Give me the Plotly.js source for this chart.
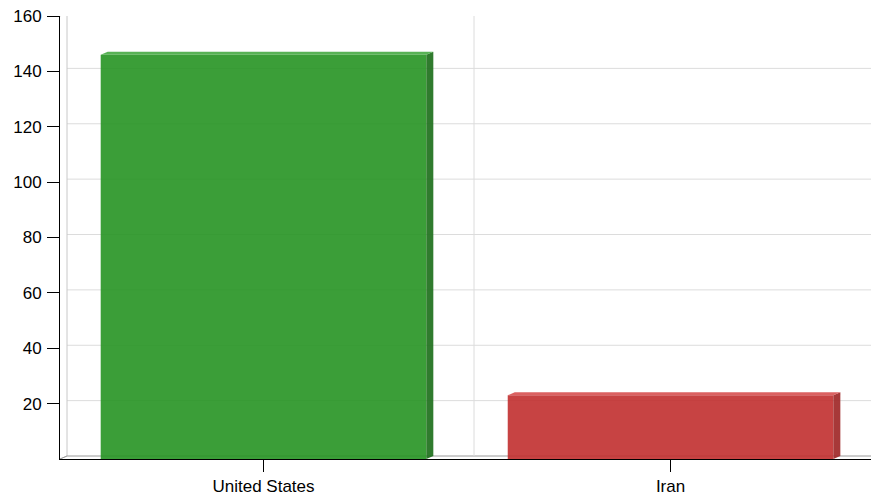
<!DOCTYPE html>
<html>
<head>
<meta charset="utf-8">
<script src="https://cdn.plot.ly/plotly-3.0.1.min.js"></script>
<style>
  html, body { margin: 0; padding: 0; background: #fff; }
  #chart { width: 871px; height: 497px; }
</style>
</head>
<body>
<div id="chart"></div>
<script>
// Country totals
const countries = ['United States', 'Iran'];
const totals = [146, 23];
const frontColors = ['rgba(38,147,34,0.9)', 'rgba(193,47,47,0.9)'];
const sideColors = ['rgba(30,112,28,0.92)', 'rgba(160,40,40,0.92)'];
const topColors = ['rgba(70,170,66,0.9)', 'rgba(215,80,80,0.9)'];
const yTicks = [20, 40, 60, 80, 100, 120, 140, 160];

// Frame geometry
const W = 871, H = 497;
const M = { l: 60, r: 0, t: 16, b: 38 };
const yMax = 160;
const barWidth = 0.8;
const depthX = 7, depthY = 3;
// the category axis runs a few pixels past the right edge of the frame
const xRange = [-0.5, countries.length - 0.5 - 0.0075];

const plotW = W - M.l - M.r;
const plotH = H - M.t - M.b;
const catPx = plotW / (xRange[1] - xRange[0]);
const pxPerUnit = plotH / yMax;
const barPx = barWidth * catPx;

const shapes = [];
const gridColor = '#dcdcdc';

// back-wall horizontal grid lines
yTicks.forEach(v => {
  shapes.push({
    type: 'line', layer: 'below',
    xref: 'paper', xsizemode: 'pixel', xanchor: 0, x0: depthX, x1: plotW + 10,
    yref: 'y', ysizemode: 'pixel', yanchor: v, y0: depthY, y1: depthY,
    line: { color: gridColor, width: 1 }
  });
});

// back-wall left edge, floor back edge and corner links
shapes.push({
  type: 'path', layer: 'below',
  xref: 'paper', xsizemode: 'pixel', xanchor: 0,
  yref: 'y', ysizemode: 'pixel', yanchor: 0,
  path: `M0,${plotH} L${depthX},${plotH + depthY} L${depthX},${depthY} L0,0`,
  line: { color: '#c8c8c8', width: 1 }
});
shapes.push({
  type: 'path', layer: 'below',
  xref: 'paper', xsizemode: 'pixel', xanchor: 0,
  yref: 'y', ysizemode: 'pixel', yanchor: 0,
  path: `M0,0 L${depthX},${depthY} L${plotW + 10},${depthY}`,
  line: { color: '#9a9a9a', width: 1 }
});

// vertical grid line between categories
for (let i = 0; i < countries.length - 1; i++) {
  shapes.push({
    type: 'line', layer: 'below',
    xref: 'x', xsizemode: 'pixel', xanchor: i + 0.5, x0: depthX, x1: depthX,
    yref: 'y', ysizemode: 'pixel', yanchor: 0, y0: depthY, y1: plotH + depthY,
    line: { color: gridColor, width: 1 }
  });
}

// side and top faces of each bar
totals.forEach((v, i) => {
  const h = v * pxPerUnit;
  shapes.push({
    type: 'path', layer: 'above',
    xref: 'x', xsizemode: 'pixel', xanchor: i + barWidth / 2,
    yref: 'y', ysizemode: 'pixel', yanchor: v,
    path: `M0,0 L${depthX},${depthY} L${depthX},${depthY - h} L0,${-h} Z`,
    fillcolor: sideColors[i], line: { width: 0 }
  });
  shapes.push({
    type: 'path', layer: 'above',
    xref: 'x', xsizemode: 'pixel', xanchor: i - barWidth / 2,
    yref: 'y', ysizemode: 'pixel', yanchor: v,
    path: `M0,0 L${depthX},${depthY} L${barPx + depthX},${depthY} L${barPx},0 Z`,
    fillcolor: topColors[i], line: { width: 0 }
  });
});

const data = [{
  type: 'bar',
  x: countries,
  y: totals,
  width: barWidth,
  marker: { color: frontColors, line: { width: 0 } },
  hoverinfo: 'x+y'
}];

const font = { family: '"Liberation Sans", Arial, sans-serif', size: 17, color: '#000' };

const layout = {
  width: W, height: H,
  margin: M,
  paper_bgcolor: '#fff', plot_bgcolor: 'rgba(0,0,0,0)',
  font: font,
  showlegend: false,
  bargap: 0.2,
  xaxis: {
    type: 'category',
    range: xRange,
    showgrid: false, zeroline: false,
    showline: true, linecolor: '#000', linewidth: 1,
    ticks: 'outside', ticklen: 12, tickcolor: '#000', tickwidth: 1,
    tickfont: font, fixedrange: true
  },
  yaxis: {
    range: [0, yMax],
    tickvals: yTicks,
    ticktext: yTicks.map(String),
    showgrid: false, zeroline: false,
    showline: true, linecolor: '#000', linewidth: 1,
    ticks: 'outside', ticklen: 12, tickcolor: '#000', tickwidth: 1,
    ticklabelstandoff: 2,
    tickfont: font, fixedrange: true
  },
  shapes: shapes
};

Plotly.newPlot('chart', data, layout, { displayModeBar: false, staticPlot: true });
</script>
</body>
</html>
